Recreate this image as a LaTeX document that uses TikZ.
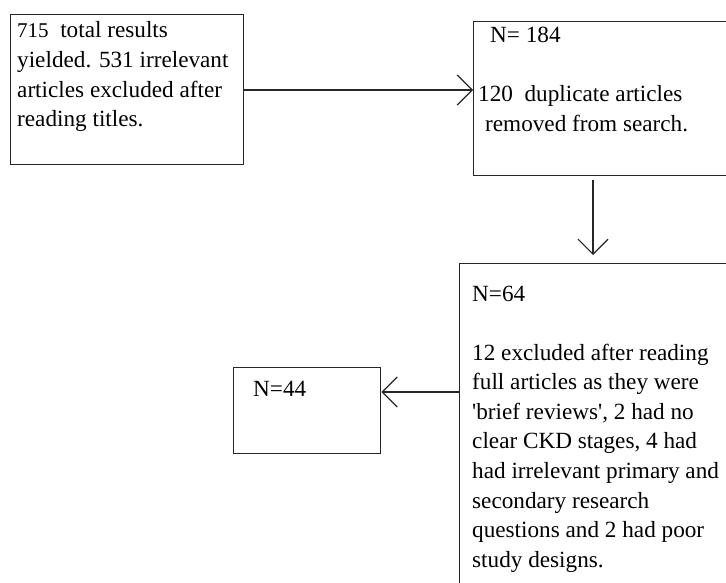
\documentclass[tikz,border=0pt]{standalone}
\usepackage{fontspec}
\setmainfont{Liberation Serif}
\usetikzlibrary{arrows.meta}
\newcommand{\lines}[1]{\begin{tabular}[t]{@{}l@{}}#1\end{tabular}}
\begin{document}
\begin{tikzpicture}[x=1pt,y=-1pt,
  box/.style={draw=black!85, line width=1.4pt, rectangle, inner sep=0pt, anchor=north west},
  txt/.style={anchor=base west, inner sep=0pt, font=\fontsize{23.2}{29.6}\selectfont},
  arr/.style={draw=black!85, line width=1.2pt, -{Straight Barb[length=15pt, width=30pt, line width=1.2pt]}}]
\useasboundingbox (0,0) rectangle (726,583);
\clip (0,0) rectangle (726,583);
% boxes
\node[box, minimum width=233pt, minimum height=150pt] (b1) at (10,14) {};
\node[box, minimum width=280pt, minimum height=154pt] (b2) at (473,21) {};
\node[box, minimum width=290pt, minimum height=340pt] (b3) at (459,263) {};
\node[box, minimum width=147pt, minimum height=86pt] (b4) at (233,367) {};
% texts
\node[txt] (t1) at (17,38) {\lines{{\fontsize{21}{29.6}\selectfont 715}\ \ total results\\yielded. 531 irrelevant\\articles excluded after\\reading titles.}};
\node[txt] (t2a) at (490,43) {N= 184};
\node[txt] (t2b) at (478,102) {\lines{120\ \ duplicate articles\\\hspace*{7pt}removed from search.}};
\node[txt] (t3a) at (472,301) {N=64};
\node[txt] (t3b) at (472,360) {\lines{12 excluded after reading\\full articles as they were\\\textquotesingle brief reviews\textquotesingle, 2 had no\\clear CKD stages, 4 had\\had irrelevant primary and\\secondary research\\questions and 2 had poor\\study designs.}};
\node[txt] (t4) at (253,396) {N=44};
% connectors
\coordinate (c1) at (0,90);
\coordinate (c2) at (593,0);
\coordinate (c3) at (0,392);
\draw[arr] (b1.east |- c1) -- (b2.west |- c1);
\draw[arr, shorten <=4pt, shorten >=8pt] (b2.south -| c2) -- (b3.north -| c2);
\draw[arr] (b3.west |- c3) -- (b4.east |- c3);
\end{tikzpicture}
\end{document}
